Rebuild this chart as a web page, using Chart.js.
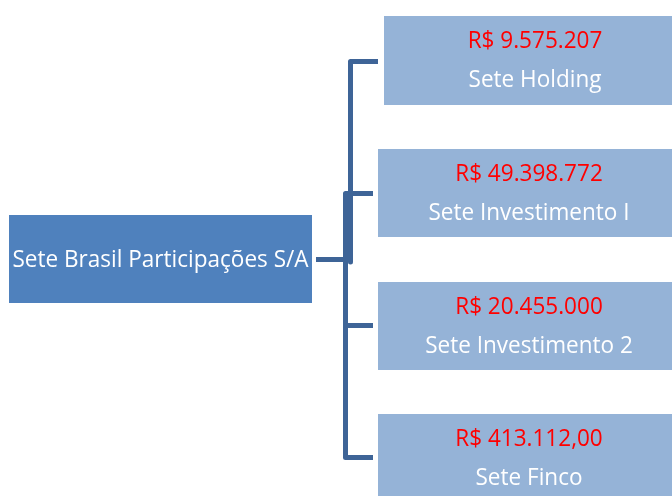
<!DOCTYPE html>
<html>
<head>
<meta charset="utf-8">
<script src="https://cdn.jsdelivr.net/npm/chart.js@4.4.1/dist/chart.umd.min.js"></script>
<style>
  html, body { margin: 0; padding: 0; background: #fff; }
  canvas { display: block; }
</style>
</head>
<body>
<canvas id="org" width="672" height="496"></canvas>
<script>
// data
const rootName = 'Sete Brasil Participações S/A';
const companies = ['Sete Holding', 'Sete Investimento I', 'Sete Investimento 2', 'Sete Finco'];
const amounts = ['R$ 9.575.207', 'R$ 49.398.772', 'R$ 20.455.000', 'R$ 413.112,00'];

// layout, in chart units (x 0..672, y 0..496 from the top)
const rootBox = { x0: 9, x1: 312, y0: 215, y1: 303 };
const childBoxes = [
  { x0: 384, x1: 686, y0: 16, y1: 105 },
  { x0: 378, x1: 680, y0: 149, y1: 237 },
  { x0: 378, x1: 680, y0: 282, y1: 370 },
  { x0: 378, x1: 680, y0: 414, y1: 502 }
];
const connectors = [
  [[378, 61.5], [350.5, 61.5], [350.5, 262]],
  [[373, 193.5], [345.5, 193.5], [345.5, 457.5], [373, 457.5]],
  [[345.5, 325.5], [373, 325.5]],
  [[316, 259.5], [345.5, 259.5]]
];

const ROOT_COLOR = '#4f81bd';
const CHILD_COLOR = '#95b3d7';
const LINE_COLOR = '#3e6497';
const FONT = '23px "Open Sans", "Noto Sans", sans-serif';
const ROOT_TEXT_WIDTH = 296; // width of the root label in the picture

function rect(ctx, xs, ys, b, color) {
  const l = xs.getPixelForValue(b.x0), r = xs.getPixelForValue(b.x1);
  const t = ys.getPixelForValue(b.y0), btm = ys.getPixelForValue(b.y1);
  ctx.fillStyle = color;
  ctx.fillRect(l, t, r - l, btm - t);
}

function label(ctx, text, px, py, color, sx) {
  ctx.save();
  ctx.translate(px, py);
  ctx.scale(sx, 1);
  ctx.font = FONT;
  ctx.textAlign = 'center';
  ctx.textBaseline = 'alphabetic';
  ctx.fillStyle = color;
  ctx.fillText(text, 0, 0);
  ctx.restore();
}

const orgBoxes = {
  id: 'orgBoxes',
  beforeDatasetsDraw(chart) {
    const { ctx, scales: { x, y } } = chart;
    ctx.save();
    rect(ctx, x, y, rootBox, ROOT_COLOR);
    childBoxes.forEach(b => rect(ctx, x, y, b, CHILD_COLOR));
    ctx.restore();
  },
  afterDatasetsDraw(chart) {
    const { ctx, scales: { x, y } } = chart;
    ctx.save();
    ctx.font = FONT;
    const sx = ROOT_TEXT_WIDTH / ctx.measureText(rootName).width;
    label(ctx, rootName, x.getPixelForValue((rootBox.x0 + rootBox.x1) / 2),
      y.getPixelForValue((rootBox.y0 + rootBox.y1) / 2 + 8), '#ffffff', sx);
    companies.forEach((name, i) => {
      const b = childBoxes[i];
      const cx = x.getPixelForValue((b.x0 + b.x1) / 2);
      label(ctx, amounts[i], cx, y.getPixelForValue(b.y0 + 32), '#ff0000', sx);
      label(ctx, name, cx, y.getPixelForValue(b.y0 + 71), '#ffffff', sx);
    });
    ctx.restore();
  }
};

new Chart(document.getElementById('org'), {
  type: 'scatter',
  data: {
    datasets: connectors.map(pts => ({
      data: pts.map(p => ({ x: p[0], y: p[1] })),
      showLine: true,
      borderColor: LINE_COLOR,
      borderWidth: 5,
      borderJoinStyle: 'round',
      borderCapStyle: 'butt',
      pointRadius: 0,
      tension: 0,
      clip: false
    }))
  },
  options: {
    responsive: false,
    animation: false,
    layout: { padding: 0 },
    scales: {
      x: { type: 'linear', min: 0, max: 672, display: false },
      y: { type: 'linear', min: 0, max: 496, reverse: true, display: false }
    },
    plugins: {
      legend: { display: false },
      tooltip: { enabled: false }
    }
  },
  plugins: [orgBoxes]
});
</script>
</body>
</html>
